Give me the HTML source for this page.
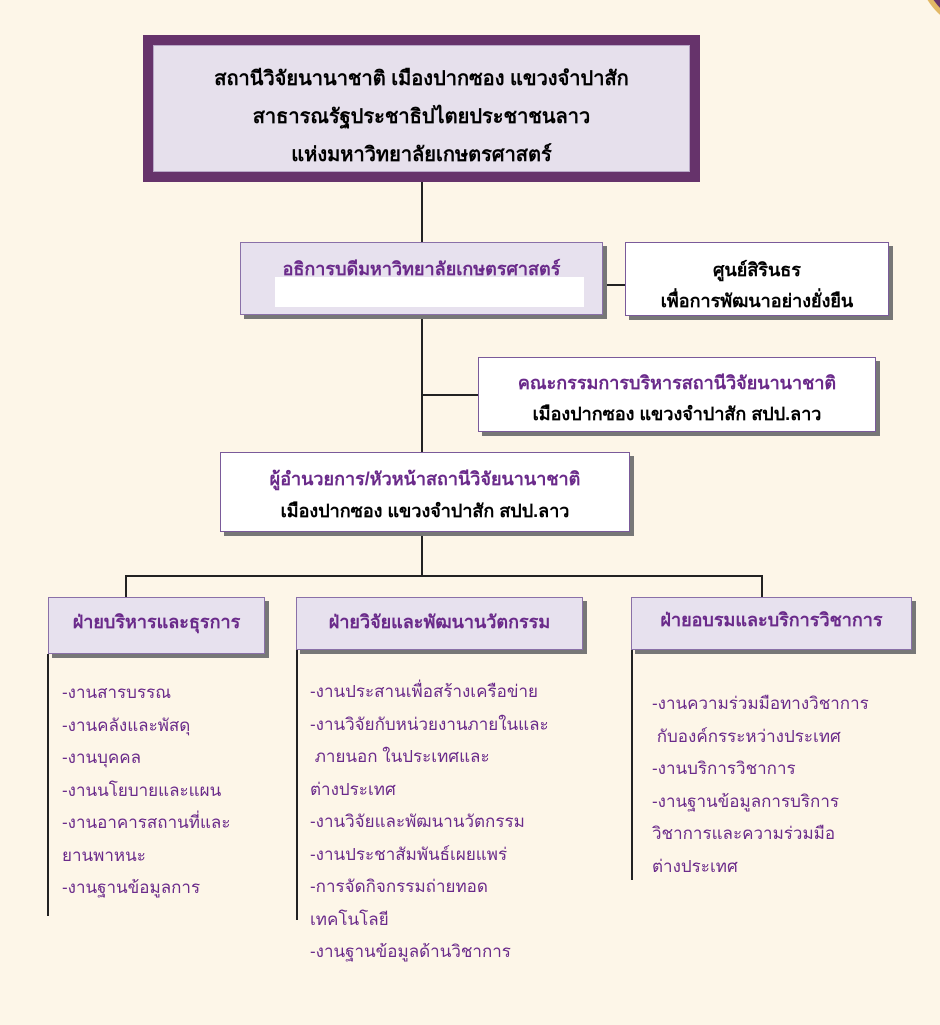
<!DOCTYPE html>
<html><head><meta charset="utf-8"><style>
body{margin:0;width:940px;height:1025px;background:#fdf6e8;position:relative;overflow:hidden;font-family:"Liberation Sans","DejaVu Sans",sans-serif}
.a{position:absolute;box-sizing:border-box}
.ln{position:absolute;background:#222}
.t{position:absolute;white-space:nowrap;text-align:center;font-weight:bold;font-size:18px}
.p{color:#6a2a8a}
.l{position:absolute;color:#6a2a8a;font-size:17px;line-height:32.5px;white-space:nowrap}
.lav{background:#e7e1ee;border:1px solid #8a70a8;box-shadow:4px 4px 0 #777}
.wh{background:#fff;border:1px solid #7a5a9a;box-shadow:4px 4px 0 #777}
</style></head><body>
<div class="a" style="left:916px;top:-115px;width:150px;height:150px;border-radius:50%;background:#66336b;border:5px solid #e2b865"></div>
<div class="a" style="left:143px;top:35px;width:557px;height:147px;background:#66336b;padding:10px">
<div style="width:100%;height:100%;background:#e6e0ec;border:1px solid #b9a8c8;box-sizing:border-box"></div></div>
<div class="t" style="left:143px;width:557px;top:60px;font-size:20px;line-height:38px">สถานีวิจัยนานาชาติ เมืองปากซอง แขวงจำปาสัก<br>สาธารณรัฐประชาธิปไตยประชาชนลาว<br>แห่งมหาวิทยาลัยเกษตรศาสตร์</div>
<div class="ln" style="left:421px;top:182px;width:1.5px;height:393px"></div>
<div class="ln" style="left:603px;top:284px;width:22px;height:1.5px"></div>
<div class="ln" style="left:422px;top:394px;width:56px;height:1.5px"></div>
<div class="a lav" style="left:240px;top:242px;width:363px;height:73px"></div>
<div class="a" style="left:275px;top:277px;width:309px;height:30px;background:#fff"></div>
<div class="t p" style="left:240px;width:363px;top:254px">อธิการบดีมหาวิทยาลัยเกษตรศาสตร์</div>
<div class="a wh" style="left:625px;top:242px;width:264px;height:74px"></div>
<div class="t" style="left:625px;width:264px;top:255px;line-height:31px">ศูนย์สิรินธร<br>เพื่อการพัฒนาอย่างยั่งยืน</div>
<div class="a wh" style="left:478px;top:357px;width:398px;height:75px"></div>
<div class="t" style="left:478px;width:398px;top:368px;line-height:31px"><span class="p">คณะกรรมการบริหารสถานีวิจัยนานาชาติ</span><br>เมืองปากซอง แขวงจำปาสัก สปป.ลาว</div>
<div class="a wh" style="left:220px;top:452px;width:410px;height:80px"></div>
<div class="t" style="left:220px;width:410px;top:463px;line-height:32px"><span class="p">ผู้อำนวยการ/หัวหน้าสถานีวิจัยนานาชาติ</span><br>เมืองปากซอง แขวงจำปาสัก สปป.ลาว</div>
<div class="ln" style="left:125px;top:575px;width:637px;height:1.5px"></div>
<div class="ln" style="left:125px;top:575px;width:1.5px;height:22px"></div>
<div class="ln" style="left:761px;top:575px;width:1.5px;height:22px"></div>
<div class="a lav" style="left:48px;top:597px;width:217px;height:57px"></div>
<div class="t p" style="left:48px;width:217px;top:607px">ฝ่ายบริหารและธุรการ</div>
<div class="a lav" style="left:296px;top:597px;width:287px;height:53px"></div>
<div class="t p" style="left:296px;width:287px;top:607px">ฝ่ายวิจัยและพัฒนานวัตกรรม</div>
<div class="a lav" style="left:631px;top:597px;width:281px;height:53px"></div>
<div class="t p" style="left:631px;width:281px;top:605px">ฝ่ายอบรมและบริการวิชาการ</div>
<div class="ln" style="left:47px;top:654px;width:1.5px;height:262px"></div>
<div class="ln" style="left:296px;top:650px;width:1.5px;height:270px"></div>
<div class="ln" style="left:631px;top:650px;width:1.5px;height:230px"></div>
<div class="l" style="left:62px;top:677px">-งานสารบรรณ<br>-งานคลังและพัสดุ<br>-งานบุคคล<br>-งานนโยบายและแผน<br>-งานอาคารสถานที่และ<br>ยานพาหนะ<br>-งานฐานข้อมูลการ</div>
<div class="l" style="left:310px;top:676px">-งานประสานเพื่อสร้างเครือข่าย<br>-งานวิจัยกับหน่วยงานภายในและ<br>&nbsp;ภายนอก ในประเทศและ<br>ต่างประเทศ<br>-งานวิจัยและพัฒนานวัตกรรม<br>-งานประชาสัมพันธ์เผยแพร่<br>-การจัดกิจกรรมถ่ายทอด<br>เทคโนโลยี<br>-งานฐานข้อมูลด้านวิชาการ</div>
<div class="l" style="left:652px;top:688px">-งานความร่วมมือทางวิชาการ<br>&nbsp;กับองค์กรระหว่างประเทศ<br>-งานบริการวิชาการ<br>-งานฐานข้อมูลการบริการ<br>วิชาการและความร่วมมือ<br>ต่างประเทศ</div>
</body></html>
